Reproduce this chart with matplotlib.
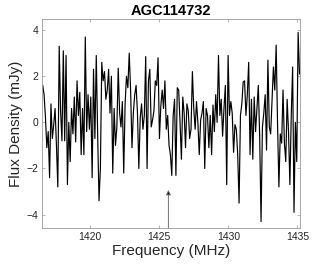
import numpy as np
import matplotlib
matplotlib.use("Agg")
import matplotlib.pyplot as plt

# spectrum (mJy), evenly spaced channels
freq_start = 1416.58   # MHz
chan_width = 0.0993    # MHz
flux = [
    1.6, 1.2, 0.2, -1.1, -0.4, -2.4, 0.8, -0.7, -0.1, 0.6,
    -1.0, -2.8, 3.3, 0.5, -0.8, 3.1, -0.8, 2.9, -2.7, 0.0,
    -1.7, 0.6, -0.5, 1.1, -0.85, 1.8, 0.3, 1.3, -1.4, 0.6,
    -1.4, 3.7, -0.4, 1.2, -0.3, 1.1, -2.4, 2.3, -0.7, 2.9,
    -0.5, -3.4, -2.0, 2.6, 1.8, 2.2, 1.0, 1.4, 2.3, 0.4,
    2.0, -2.2, 0.6, -1.0, -0.2, 2.35, 0.4, -0.2, 0.9, -2.2,
    0.8, 2.0, 1.5, 3.0, 1.4, -1.1, 0.4, 1.2, 1.6, 0.4,
    -2.0, 0.2, 0.8, -0.3, 0.3, 2.85, -2.0, 1.8, 2.3, -0.2,
    0.1, 0.5, 1.8, 1.6, 2.8, -0.7, 0.7, 1.4, 0.6, 1.8,
    -0.3, 0.3, -1.0, -1.4, -2.3, 0.3, 1.0, -2.3, 1.5, 1.4,
    0.0, -1.6, 1.1, 0.4, -1.1, 0.8, 0.5, -0.7, -0.3, 2.2,
    0.6, -0.3, 0.9, 0.0, -1.4, 0.1, 0.4, 0.9, -2.0, 0.6,
    0.3, -1.1, 0.3, -1.4, 0.75, -0.4, 1.2, 0.0, 2.9, 0.3,
    1.0, -0.6, 0.6, 1.6, -2.7, 2.9, 0.3, 0.9, 0.4, -1.3,
    -0.1, -0.3, -1.4, -3.5, 0.3, 0.8, 1.75, 1.8, 0.3, 1.2,
    2.6, -1.4, 1.0, -1.6, 1.1, -0.4, 0.6, 1.6, -0.6, -4.3,
    -0.2, 0.4, 1.2, -1.2, 2.7, -0.2, -0.5, 1.0, 2.4, 1.4,
    3.35, 0.0, -2.8, -0.5, -0.9, 1.4, -0.9, -1.7, 1.0, -0.4,
    -2.7, 0.3, 2.4, -3.9, 0.0, -1.7, 3.9, 2.1,
]
freq = freq_start + chan_width * np.arange(len(flux))

arrow_freq = 1425.67
arrow_top = -2.93
xticks = [1420, 1425, 1430, 1435]
yticks = [-4, -2, 0, 2, 4]

plt.rcParams['font.family'] = ['Liberation Sans', 'DejaVu Sans']

fig = plt.figure(figsize=(3.32, 2.66), dpi=100)
ax = fig.add_axes([42.3 / 332, 1 - 228 / 266, (300.2 - 42.3) / 332, (228 - 19) / 266])

ax.plot(freq, flux, color='black', linewidth=0.85)

ax.set_xlim(1416.55, 1435.2)
ax.set_ylim(-4.58, 4.48)
ax.set_xticks(xticks)
ax.set_yticks(yticks)

# marker arrow: grey shaft, black head
ax.annotate('', xy=(arrow_freq, arrow_top), xytext=(arrow_freq, -4.58),
            arrowprops=dict(arrowstyle='-|>', ec='0.45', fc='black', lw=0.7,
                            mutation_scale=7, shrinkA=0, shrinkB=0))

for s in ax.spines.values():
    s.set_color('0.6')
    s.set_linewidth(0.6)
ax.tick_params(direction='in', length=2.5, width=0.5, color='0.6',
               labelsize=7.5, labelcolor='0.15', top=True, right=True, pad=3)

ax.set_xlabel('Frequency (MHz)', fontsize=11, color='0.15', labelpad=1)
ax.set_ylabel('Flux Density (mJy)', fontsize=11, color='0.15', labelpad=2)
ax.set_title('AGC114732', fontsize=10.5, fontweight='bold', pad=3)

fig.savefig('out.png', dpi=100)
